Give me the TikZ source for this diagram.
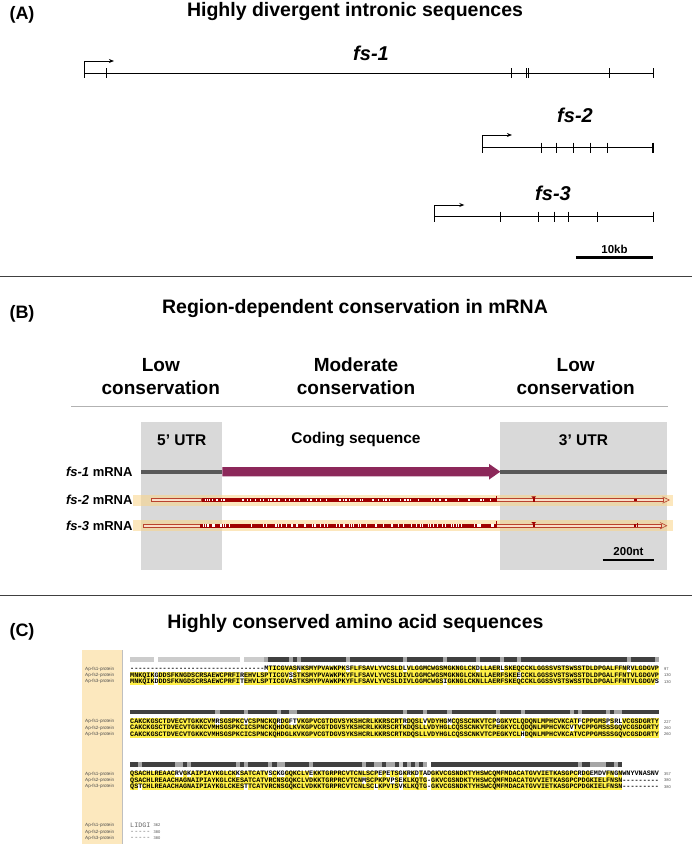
\documentclass[tikz,border=0pt]{standalone}
\usepackage{fontspec}
\setmainfont{Liberation Sans}
\setmonofont{Liberation Mono}
\usetikzlibrary{positioning}
\usetikzlibrary{calc}
\usetikzlibrary{arrows.meta}
\newcommand*{\xSeq}{130}% left edge of the alignment
\newcommand*{\cw}{4.07}% width of one alignment column
\definecolor{hlyellow}{RGB}{255,240,70}
\definecolor{cdsred}{RGB}{160,0,0}
\definecolor{cdspurple}{RGB}{140,40,90}
\definecolor{utrgray}{RGB}{217,217,217}
\definecolor{bandyellow}{RGB}{250,212,135}
\definecolor{sidepanel}{RGB}{252,232,190}
\definecolor{piecered}{RGB}{185,65,45}
\definecolor{piecefill}{RGB}{250,222,200}
\newcommand*{\hlrow}[2]{% yellow cells of one row
  \foreach \a/\b in {#2}
    \fill[hlyellow] ({\xSeq+(\a-1)*\cw},#1-3.2) rectangle ({\xSeq+\b*\cw},#1+3.2);
}
\newcommand*{\barrun}[3]{% identity bar above a block
  \foreach \a/\b in {#3}
    \fill[#2] ({\xSeq+(\a-1)*\cw},#1-2.3) rectangle ({\xSeq+\b*\cw},#1+2.3);
}
\tikzset{
  paneltitle/.style={font=\fontsize{19.5}{23}\selectfont\bfseries},
  panellabel/.style={font=\fontsize{18}{21}\selectfont\bfseries},
  genename/.style={font=\fontsize{20}{24}\selectfont\bfseries\itshape},
  scalelabel/.style={font=\fontsize{11.5}{13}\selectfont\bfseries},
  regionhead/.style={font=\fontsize{19}{22.8}\selectfont\bfseries, align=center},
  parthead/.style={font=\fontsize{15.5}{18}\selectfont\bfseries},
  mrnalabel/.style={font=\fontsize{13}{15}\selectfont\bfseries, anchor=east, inner sep=0pt},
  geneline/.style={line width=1pt},
  exontick/.style={line width=1pt},
  tss/.style={line width=1pt, -{Stealth[length=5pt,width=4pt]}},
  scalebar/.style={line width=2.5pt},
  separator/.style={line width=1pt, draw=black!75},
  utrline/.style={line width=4pt, draw=black!65},
  band/.style={fill=bandyellow, fill opacity=0.55},
  piece/.style={draw=piecered, fill=piecefill, line width=0.6pt},
  seqrow/.style={anchor=west, inner sep=0pt, font=\fontsize{6.78}{7}\selectfont\ttfamily\bfseries},
  tailrow/.style={anchor=west, inner sep=0pt, text=black!60, font=\fontsize{6.78}{7}\selectfont\ttfamily},
  protlabel/.style={anchor=west, inner sep=0pt, text=black!70, font=\fontsize{4.6}{5}\selectfont},
  seqnum/.style={anchor=west, inner sep=0pt, text=black!70, font=\fontsize{4}{5}\selectfont},
  bardark/.style={fill=black!75},
  barmid/.style={fill=black!35},
  barlight/.style={fill=black!20}
}

\begin{document}
\begin{tikzpicture}[x=1pt,y=-1pt]
    \useasboundingbox (0,0) rectangle (692,844);

    % (A) gene structures
    \node[panellabel] (labA) at (22,15) {(A)};
    \node[paneltitle] (titA) at (355,11) {Highly divergent intronic sequences};

    \node[genename] (fs1) at (371,53) {fs-1};
    \draw[geneline] (84.7,73.3) -- (653.1,73.3);
    \foreach \t in {84.7,106.8,511,526.5,528.7,609,653.1} {
        \draw[exontick] (\t,68.3) -- (\t,78.3);
    }
    \draw[tss] (84.7,73.3) -- (84.7,61) -- (113.9,61);

    \node[genename] (fs2) at (575,115) {fs-2};
    \draw[geneline] (482.3,147.7) -- (653.1,147.7);
    \foreach \t in {482.3,541.9,556.1,573.7,590.5,607.2} {
        \draw[exontick] (\t,142.7) -- (\t,152.7);
    }
    \draw[line width=2.2pt] (652.6,142.7) -- (652.6,152.7);
    \draw[tss] (482.3,147.7) -- (482.3,135) -- (511.9,135);

    \node[genename] (fs3) at (553,193) {fs-3};
    \draw[geneline] (434.7,216.7) -- (653.1,216.7);
    \foreach \t in {434.7,500,538.4,554.7,568,597.5,653.1} {
        \draw[exontick] (\t,211.7) -- (\t,221.7);
    }
    \draw[tss] (434.7,216.7) -- (434.7,205) -- (464.3,205);

    \node[scalelabel] (kb) at (614.5,249) {10kb};
    \draw[scalebar] (575.9,257.7) -- (653.1,257.7);

    \draw[separator] (0,276.7) -- (692,276.7);

    % (B) mRNA conservation
    \node[panellabel] (labB) at (22,314) {(B)};
    \node[paneltitle] (titB) at (355,308) {Region-dependent conservation in mRNA};
    \node[regionhead] (lowL) at (160.8,376.5) {Low\\conservation};
    \node[regionhead] (modC) at (356,376.5) {Moderate\\conservation};
    \node[regionhead] (lowR) at (575.7,376.5) {Low\\conservation};
    \draw[black!30, line width=1pt] (71,406.7) -- (667.7,406.7);

    \fill[utrgray] (141,421.7) rectangle (222.3,570);
    \fill[utrgray] (500.3,421.7) rectangle (666.7,570);
    \node[parthead] (utr5) at (181.7,440) {5' UTR};
    \node[parthead] (cds) at (356,440) {Coding sequence};
    \node[parthead] (utr3) at (583.5,440) {3' UTR};

    \node[mrnalabel] (m1) at (132.7,471.7) {\textit{fs-1} mRNA};
    \node[mrnalabel] (m2) at (132.7,500) {\textit{fs-2} mRNA};
    \node[mrnalabel] (m3) at (132.7,525.7) {\textit{fs-3} mRNA};

    \draw[utrline] (141,471.7) -- (222.3,471.7);
    \fill[cdspurple] (222.3,467) -- (489,467) -- (489,463.8) -- (500.3,471.7)
        -- (489,479.6) -- (489,476.4) -- (222.3,476.4) -- cycle;
    \draw[utrline] (500.3,471.7) -- (666.7,471.7);

    % fs-2 track
    \fill[band] (133,494.5) rectangle (672.7,505.5);
    \filldraw[piece] (151.7,498.4) rectangle (201.7,501.6);
    \fill[cdsred] (201.7,497.8) rectangle (496.7,502.2);
    \pgfmathsetseed{11}
    \foreach \k in {1,...,80} {
        \fill[white] ({203+292*rnd},498.6) rectangle ++(0.7,2.8);
    }
    \filldraw[piece] (496.7,498.4) rectangle (663.5,501.6);
    \draw[piecered, line width=0.6pt] (662.5,496.8) -- (669.3,500) -- (662.5,503.2);
    \draw[cdsred, line width=0.8pt] (496.7,495.5) -- (496.7,502);
    \fill[cdsred] (531.3,496.3) -- (536.1,496.3) -- (533.7,499) -- cycle;
    \fill[cdsred] (532.7,498.4) rectangle (534.7,501.6);
    \fill[cdsred] (634.3,498.6) rectangle (636.5,501.4);

    % fs-3 track
    \fill[band] (133,520.2) rectangle (672.7,531.2);
    \filldraw[piece] (143.3,524.1) rectangle (200.3,527.3);
    \fill[cdsred] (200.3,523.5) rectangle (496.7,527.9);
    \pgfmathsetseed{23}
    \foreach \k in {1,...,80} {
        \fill[white] ({202+293*rnd},524.3) rectangle ++(0.7,2.8);
    }
    \filldraw[piece] (496.7,524.1) rectangle (661,527.3);
    \draw[piecered, line width=0.6pt] (660,522.5) -- (666.7,525.7) -- (660,528.9);
    \draw[cdsred, line width=0.8pt] (496.7,521.2) -- (496.7,527.7);
    \fill[cdsred] (531.3,522) -- (536.1,522) -- (533.7,524.7) -- cycle;
    \fill[cdsred] (532.7,524.1) rectangle (534.7,527.3);
    \fill[cdsred] (633.8,524.1) rectangle (635.6,527.3);
    \draw[cdsred, line width=0.5pt] (637.5,522.8) -- (637.5,527.3);

    \node[scalelabel] (nt) at (628.5,551.7) {200nt};
    \draw[scalebar] (602.7,560) -- (654.3,560);

    \draw[separator] (0,595) -- (692,595);

    % (C) protein alignment
    \node[panellabel] (labC) at (22,631.7) {(C)};
    \node[paneltitle] (titC) at (355.5,623.3) {Highly conserved amino acid sequences};
    \fill[sidepanel] (82,650) rectangle (122,844);
    \draw[black!25, line width=0.8pt] (122,650) -- (122,844);

    % block 1
    \barrun{659.3}{barlight}{1/6,8/27,29/33}
    \barrun{659.3}{bardark}{34/130}
    \barrun{659.3}{barmid}{34/34,40/40,42/42,54/54,68/68,78/78,86/86,92/92,96/96,123/123,130/130}
    \hlrow{669}{35/41,43/53,55/67,69/85,87/91,93/122,124/130}
    \hlrow{675.4}{1/6,8/27,29/39,41/95,97/130}
    \hlrow{681.8}{1/6,8/27,29/77,79/129}
    \node[seqrow] (b1r1) at (\xSeq,669) {---------------------------------MTICGVASNKSMYPVAWKPKSFLFSAVLYVCSLDLVLGGMCWGSMGKNGLCKDLLAERLSKEQCCKLGGSSVSTSWSSTDLDPGALFFNRVLGDGVP};
    \node[seqrow] (b1r2) at (\xSeq,675.4) {MNKQIKGDDSFKNGDSCRSAEWCPRFIREHVLSPTICGVSSTKSMYPVAWKPKYFLFSAVLYVCSLDIVLGGMCWGSMGKNGLCKNLLAERFSKEECCKLGGSSVSTSWSSTDLDPGALFFNTVLGDGVP};
    \node[seqrow] (b1r3) at (\xSeq,681.8) {MNKQIKDDDSFKNGDSCRSAEWCPRFITEHVLSPTICGVASTKSMYPVAWKPKYFLFSAVLYVCSLDIVLGGMCWGSIGKNGLCKNLLAERFSKEQCCKLGGSSVSTSWSSTDLDPGALFFNTVLGDGVS};

    % block 2
    \barrun{711.9}{bardark}{1/130}
    \barrun{711.9}{barmid}{22/22,29/29,37/37,40/41,68/68,73/73,79/79,91/91,97/97,109/109,111/111,118/118,120/121}
    \hlrow{721.6}{1/21,23/28,30/36,38/39,42/67,69/72,74/78,80/90,92/110,112/117,119/119,122/130}
    \hlrow{728}{1/108,110/130}
    \hlrow{734.4}{1/96,98/130}
    \node[seqrow] (b2r1) at (\xSeq,721.6) {CAKCKGSCTDVECVTGKKCVMRSGSPKCVCSPNCKQRDGFTVKGPVCGTDGVSYKSHCRLKKRSCRTRDQSLVVDYHGMCQSSCNKVTCPGGKYCLQDQNLMPHCVKCATFCPPGMSPSRLVCGSDGRTY};
    \node[seqrow] (b2r2) at (\xSeq,728) {CAKCKGSCTDVECVTGKKCVMHSGSPKCICSPNCKQHDGLKVKGPVCGTDGVSYKSHCRLKKRSCRTKDQSLLVDYHGLCQSSCNKVTCPEGKYCLQDQNLMPHCVKCVTVCPPGMSSSGQVCGSDGRTY};
    \node[seqrow] (b2r3) at (\xSeq,734.4) {CAKCKGSCTDVECVTGKKCVMHSGSPKCICSPNCKQHDGLKVKGPVCGTDGVSYKSHCRLKKRSCRTKDQSLLVDYHGLCQSSCNKVTCPEGKYCLHDQNLMPHCVKCATVCPPGMSSSGQVCGSDGRTY};

    % block 3
    \barrun{764.3}{bardark}{1/66,68/73,75/121}
    \barrun{764.3}{barlight}{67/67}
    \barrun{764.3}{barmid}{3/3,12/13,15/15,27/27,29/29,35/35,37/38,45/45,58/58,61/62,64/65,69/69,71/71,73/73,111/111,114/117,120/120}
    \hlrow{774}{1/11,14/14,16/26,28/34,36/36,39/44,46/61,63/63,65/66,68/68,70/70,72/72,75/110,112/113,118/119,121/121}
    \hlrow{780.4}{1/57,59/64,66/66,68/73,75/121}
    \hlrow{786.8}{1/2,4/28,30/60,62/66,68/73,75/121}
    \node[seqrow] (b3r1) at (\xSeq,774) {QSACHLREAACRVGKAIPIAYKGLCKKSATCATVSCKGGQKCLVEKKTGRPRCVTCNLSCPEPETSGKRKDTADGKVCGSNDKTYHSWCQMFMDACATGVVIETKASGPCRDGEMDVFNGNWNYVNASNV};
    \node[seqrow] (b3r2) at (\xSeq,780.4) {QSACHLREAACHAGNAIPIAYKGLCKESATCATVRCNSGQKCLVDKKTGRPRCVTCNMSCPKPVPSEKLKQTG-GKVCGSNDKTYHSWCQMFMDACATGVVIETKASGPCPDGKIELFNSN---------};
    \node[seqrow] (b3r3) at (\xSeq,786.8) {QSTCHLREAACHAGNAIPIAYKGLCKESTTCATVRCNSGQKCLVDKKTGRPRCVTCNLSCLKPVTSVKLKQTG-GKVCGSNDKTYHSWCQMFMDACATGVVIETKASGPCPDGKIELFNSN---------};

    % block 4
    \node[tailrow] (b4r1) at (\xSeq,825.6) {LIDGI};
    \node[tailrow] (b4r2) at (\xSeq,832) {-----};
    \node[tailrow] (b4r3) at (\xSeq,838.4) {-----};

    % row names and end numbers
    \foreach \y/\n [count=\i] in {669/97,675.4/130,681.8/130,721.6/227,728/260,734.4/260,774/357,780.4/380,786.8/380} {
        \node[seqnum] (num\i) at (664,\y) {\n};
    }
    \foreach \y/\n [count=\i] in {825.6/362,832/380,838.4/380} {
        \node[seqnum] (end\i) at (153.5,\y) {\n};
    }
    \foreach \y [count=\i] in {669,721.6,774,825.6} {
        \node[protlabel] (p1\i) at (85,\y) {Ap-fs1-protein};
        \node[protlabel] (p2\i) at (85,\y+6.4) {Ap-fs2-protein};
        \node[protlabel] (p3\i) at (85,\y+12.8) {Ap-fs3-protein};
    }
\end{tikzpicture}
\end{document}
